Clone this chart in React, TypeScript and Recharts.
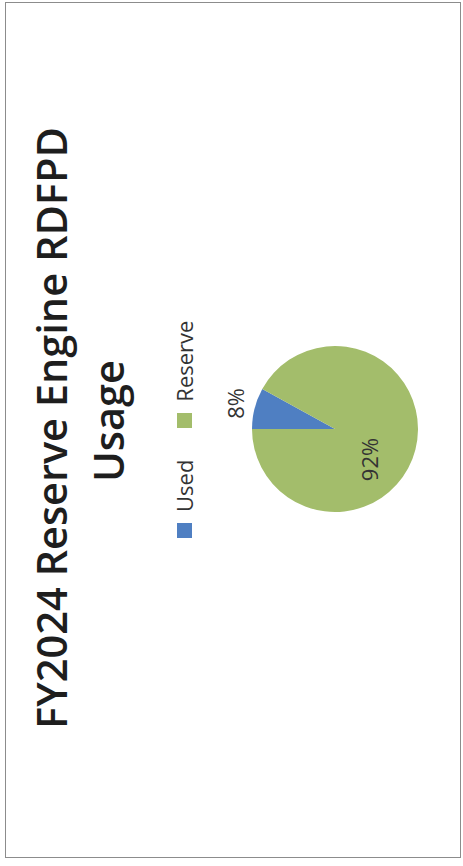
import React from "react";
import { PieChart, Pie, Cell, Legend } from "recharts";

// values
const categories = ["Used", "Reserve"];
const shares = [8, 92];
const sliceColors = ["#4f7fc2", "#a3bd6b"];
const titleLines = ["FY2024 Reserve Engine RDFPD", "Usage"];

const data = categories.map((name, i) => ({ name, value: shares[i] }));

const W = 866;
const H = 463;
const FONT = "'Open Sans', sans-serif";
const RAD = Math.PI / 180;

// Excel "best fit": small slice label sits outside, big one inside
const renderLabel = (props: any) => {
  const { cx, cy, midAngle, outerRadius, percent } = props;
  const outside = percent < 0.2;
  const r = outside ? outerRadius + 20 : outerRadius * 0.55;
  const a = outside ? midAngle : midAngle - 27.5;
  const x = cx + r * Math.cos(-a * RAD);
  const y = cy + r * Math.sin(-a * RAD);
  return (
    <text
      x={x}
      y={y}
      textAnchor="middle"
      dominantBaseline="central"
      fill="#333"
      fontSize={22}
      fontFamily={FONT}
    >
      {`${Math.round(percent * 100)}%`}
    </text>
  );
};

const renderLegend = ({ payload }: any) => {
  // keep data order (legend sorts by name otherwise)
  const items = [...(payload || [])].sort(
    (a: any, b: any) => categories.indexOf(a.value) - categories.indexOf(b.value)
  );
  return (
    <div
      style={{
        display: "flex",
        alignItems: "center",
        paddingLeft: 328,
        fontFamily: FONT,
        fontSize: 22,
        color: "#333",
      }}
    >
      {items.map((p: any, i: number) => (
        <div key={i} style={{ display: "flex", alignItems: "center", marginRight: 32 }}>
          <span
            style={{
              display: "inline-block",
              width: 15,
              height: 15,
              background: p.color,
              marginRight: 11,
            }}
          />
          <span>{p.value}</span>
        </div>
      ))}
    </div>
  );
};

export default function App() {
  return (
    <div
      style={{
        position: "absolute",
        left: 0,
        top: 0,
        width: H,
        height: W,
        overflow: "hidden",
        background: "#fff",
      }}
    >
      {/* the photo is turned a quarter turn counter-clockwise */}
      <div
        style={{
          position: "absolute",
          left: 0,
          top: 0,
          width: W,
          height: H,
          transformOrigin: "0 0",
          transform: `translateY(${W}px) rotate(-90deg)`,
        }}
      >
        <div
          style={{
            position: "absolute",
            left: 8,
            top: 5,
            width: 856,
            height: 456,
            border: "1.5px solid #8c8c8c",
            boxSizing: "border-box",
          }}
        />
        <PieChart width={W} height={H} margin={{ top: 0, right: 0, bottom: 0, left: 0 }}>
          <Pie
            data={data}
            dataKey="value"
            nameKey="name"
            cx={437}
            cy={335}
            outerRadius={83}
            startAngle={90}
            endAngle={-270}
            stroke="none"
            label={renderLabel}
            labelLine={false}
            isAnimationActive={false}
          >
            {data.map((d, i) => (
              <Cell key={d.name} fill={sliceColors[i]} />
            ))}
          </Pie>
          <Legend
            layout="horizontal"
            verticalAlign="middle"
            align="center"
            content={renderLegend}
            wrapperStyle={{ top: 169, left: 0, width: W }}
          />
        </PieChart>
        <svg
          width={W}
          height={H}
          style={{ position: "absolute", left: 0, top: 0, pointerEvents: "none" }}
        >
          <text x={438} y={67} textAnchor="middle" fontFamily={FONT} fontWeight={600} fontSize={41.5} fill="#1e1e1e">
            {titleLines[0]}
          </text>
          <text x={445} y={124} textAnchor="middle" fontFamily={FONT} fontWeight={600} fontSize={41.5} fill="#1e1e1e">
            {titleLines[1]}
          </text>
        </svg>
      </div>
    </div>
  );
}
